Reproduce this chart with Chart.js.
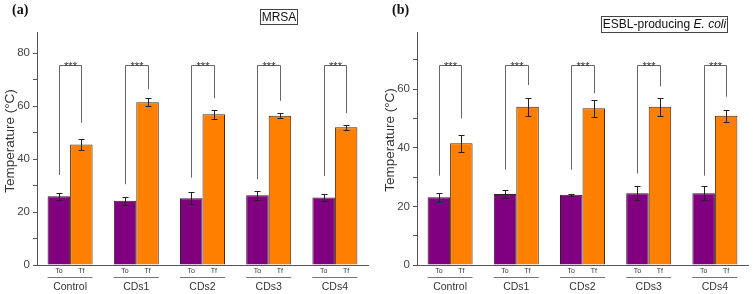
<!DOCTYPE html>
<html>
<head>
<meta charset="utf-8">
<script src="https://cdn.jsdelivr.net/npm/chart.js@4/dist/chart.umd.min.js"></script>
<style>
html, body { margin: 0; padding: 0; background: #fff; }
#wrap { position: relative; width: 753px; height: 294px; }
#wrap canvas { position: absolute; top: 0; }
</style>
</head>
<body>
<div id="wrap">
  <canvas id="mrsaChart" width="376" height="294" style="left:0"></canvas>
  <canvas id="esblChart" width="377" height="294" style="left:376px"></canvas>
</div>
<script>
// Data
const groups = ['Control', 'CDs1', 'CDs2', 'CDs3', 'CDs4'];
const subLabels = ['To', 'Tf'];

// (a) MRSA
const mrsaTo = [26.0, 24.3, 25.2, 26.3, 25.5];
const mrsaToErr = [1.3, 1.5, 2.2, 1.7, 1.4];
const mrsaTf = [45.5, 61.5, 56.9, 56.4, 52.0];
const mrsaTfErr = [1.9, 1.6, 1.7, 1.0, 0.9];
const mrsaBracketTop = 75.5;
const mrsaBracketLeft = [34.0, 30.5, 33.0, 32.4, 33.6];
const mrsaBracketRight = [53.7, 66.4, 63.0, 62.0, 57.4];

// (b) ESBL-producing E. coli
const esblTo = [23.1, 24.2, 24.0, 24.5, 24.5];
const esblToErr = [1.6, 1.4, 0.3, 2.4, 2.4];
const esblTf = [41.5, 54.0, 53.5, 54.0, 50.9];
const esblTfErr = [2.9, 3.0, 2.9, 3.0, 2.0];
const esblBracketTop = 68.3;
const esblBracketLeft = [30.5, 32.5, 32.5, 31.2, 30.5];
const esblBracketRight = [50.0, 61.4, 58.6, 60.9, 57.4];

const FONT = '"Liberation Sans", Arial, sans-serif';
const AXIS = '#555';
const TEXT = '#333';

// Extras: error bars, significance brackets, To/Tf labels, titles
function panelPlugin(p) {
    return {
        id: 'panelExtras',
        afterDatasetsDraw(chart) {
            const ctx = chart.ctx;
            const y = chart.scales.y;
            const area = chart.chartArea;
            const metaTo = chart.getDatasetMeta(0);
            const metaTf = chart.getDatasetMeta(1);
            ctx.save();

            // error bars
            ctx.strokeStyle = '#222';
            ctx.lineWidth = 1;
            [[metaTo, p.to, p.toErr], [metaTf, p.tf, p.tfErr]].forEach(([meta, val, err]) => {
                meta.data.forEach((bar, i) => {
                    const x = Math.round(bar.x) + 0.5;
                    const hi = Math.round(y.getPixelForValue(val[i] + err[i])) + 0.5;
                    const lo = Math.round(y.getPixelForValue(val[i] - err[i])) + 0.5;
                    ctx.beginPath();
                    ctx.moveTo(x, hi); ctx.lineTo(x, lo);
                    ctx.moveTo(x - 3, hi); ctx.lineTo(x + 3, hi);
                    ctx.moveTo(x - 3, lo); ctx.lineTo(x + 3, lo);
                    ctx.stroke();
                });
            });

            // brackets with ***
            const yTop = Math.round(y.getPixelForValue(p.bracketTop)) + 0.5;
            groups.forEach((g, i) => {
                const xL = Math.round(metaTo.data[i].x) + 0.5;
                const xR = Math.round(metaTf.data[i].x) + 0.5;
                ctx.strokeStyle = '#666';
                ctx.beginPath();
                ctx.moveTo(xL, y.getPixelForValue(p.bracketLeft[i]));
                ctx.lineTo(xL, yTop);
                ctx.lineTo(xR, yTop);
                ctx.lineTo(xR, y.getPixelForValue(p.bracketRight[i]));
                ctx.stroke();
                ctx.fillStyle = TEXT;
                ctx.font = '11px ' + FONT;
                ctx.textAlign = 'center';
                ctx.textBaseline = 'alphabetic';
                ctx.fillText('***', (xL + xR) / 2, yTop + 4);
            });

            // To / Tf labels and group underline
            ctx.font = '7px ' + FONT;
            ctx.textBaseline = 'middle';
            ctx.fillStyle = TEXT;
            [metaTo, metaTf].forEach((meta, d) => {
                meta.data.forEach(bar => ctx.fillText(subLabels[d], bar.x, area.bottom + 6));
            });
            ctx.strokeStyle = '#777';
            groups.forEach((g, i) => {
                const a = metaTo.data[i], b = metaTf.data[i];
                ctx.beginPath();
                ctx.moveTo(a.x - a.width / 2, area.bottom + 12.5);
                ctx.lineTo(b.x + b.width / 2, area.bottom + 12.5);
                ctx.stroke();
            });
            ctx.restore();
        },
        afterDraw(chart) {
            const ctx = chart.ctx;
            ctx.save();
            // panel letter
            ctx.fillStyle = '#111';
            ctx.font = 'bold 14px "Liberation Serif", "Times New Roman", serif';
            ctx.textAlign = 'left';
            ctx.textBaseline = 'alphabetic';
            ctx.fillText(p.letter, p.letterX, 14);

            // boxed title
            const b = p.box;
            ctx.strokeStyle = '#444';
            ctx.lineWidth = 1;
            ctx.strokeRect(b.x + 0.5, b.y + 0.5, b.w, b.h);
            let total = 0;
            p.titleParts.forEach(t => {
                ctx.font = (t.italic ? 'italic ' : '') + '12px ' + FONT;
                total += ctx.measureText(t.text).width;
            });
            let tx = b.x + (b.w - total) / 2 + 0.5;
            ctx.fillStyle = '#111';
            ctx.textBaseline = 'middle';
            p.titleParts.forEach(t => {
                ctx.font = (t.italic ? 'italic ' : '') + '12px ' + FONT;
                ctx.fillText(t.text, tx, b.y + b.h / 2 + 1);
                tx += ctx.measureText(t.text).width;
            });

            // y axis title
            ctx.translate(p.yTitleX, p.yTitleY);
            ctx.rotate(-Math.PI / 2);
            ctx.textAlign = 'center';
            ctx.font = '13.5px ' + FONT;
            ctx.fillStyle = TEXT;
            ctx.fillText('Temperature (°C)', 0, 0);
            ctx.restore();
        }
    };
}

function makeChart(id, p) {
    const ctx = document.getElementById(id).getContext('2d');
    return new Chart(ctx, {
        type: 'bar',
        data: {
            labels: groups,
            datasets: [{
                label: 'To',
                data: p.to,
                backgroundColor: '#800080',
                borderColor: '#3a1a2a',
                borderWidth: 1
            }, {
                label: 'Tf',
                data: p.tf,
                backgroundColor: '#FF8000',
                borderColor: '#4a2a10',
                borderWidth: 1
            }]
        },
        options: {
            responsive: false,
            animation: false,
            events: [],
            categoryPercentage: 0.68,
            barPercentage: 1,
            layout: { padding: { top: 32, right: p.padRight, left: 0, bottom: 0 } },
            plugins: {
                legend: { display: false },
                tooltip: { enabled: false }
            },
            scales: {
                x: {
                    grid: { display: false, drawTicks: false },
                    border: { display: true, color: AXIS },
                    ticks: { padding: 16, color: TEXT, font: { family: FONT, size: 10.5 } },
                    afterFit: s => { s.height = 29; }
                },
                y: {
                    min: 0,
                    max: p.yMax,
                    grid: { drawOnChartArea: false, color: AXIS, tickLength: 4 },
                    border: { display: true, color: AXIS },
                    ticks: {
                        stepSize: 10,
                        includeBounds: false,
                        padding: 3,
                        color: '#444',
                        font: { family: FONT, size: 11.5 },
                        callback: v => (v % 20 === 0 ? v : '')
                    },
                    afterFit: s => { s.width = p.yWidth; }
                }
            }
        },
        plugins: [panelPlugin(p)]
    });
}

makeChart('mrsaChart', {
    to: mrsaTo, toErr: mrsaToErr, tf: mrsaTf, tfErr: mrsaTfErr,
    bracketTop: mrsaBracketTop, bracketLeft: mrsaBracketLeft, bracketRight: mrsaBracketRight,
    yMax: 88, yWidth: 37, padRight: 8,
    letter: '(a)', letterX: 12,
    box: { x: 260, y: 9, w: 37, h: 15 },
    titleParts: [{ text: 'MRSA' }],
    yTitleX: 10, yTitleY: 141
});

makeChart('esblChart', {
    to: esblTo, toErr: esblToErr, tf: esblTf, tfErr: esblTfErr,
    bracketTop: esblBracketTop, bracketLeft: esblBracketLeft, bracketRight: esblBracketRight,
    yMax: 79.5, yWidth: 41, padRight: 5,
    letter: '(b)', letterX: 16,
    box: { x: 225, y: 16, w: 126, h: 16 },
    titleParts: [{ text: 'ESBL-producing ' }, { text: 'E. coli', italic: true }],
    yTitleX: 14, yTitleY: 140
});
</script>
</body>
</html>
